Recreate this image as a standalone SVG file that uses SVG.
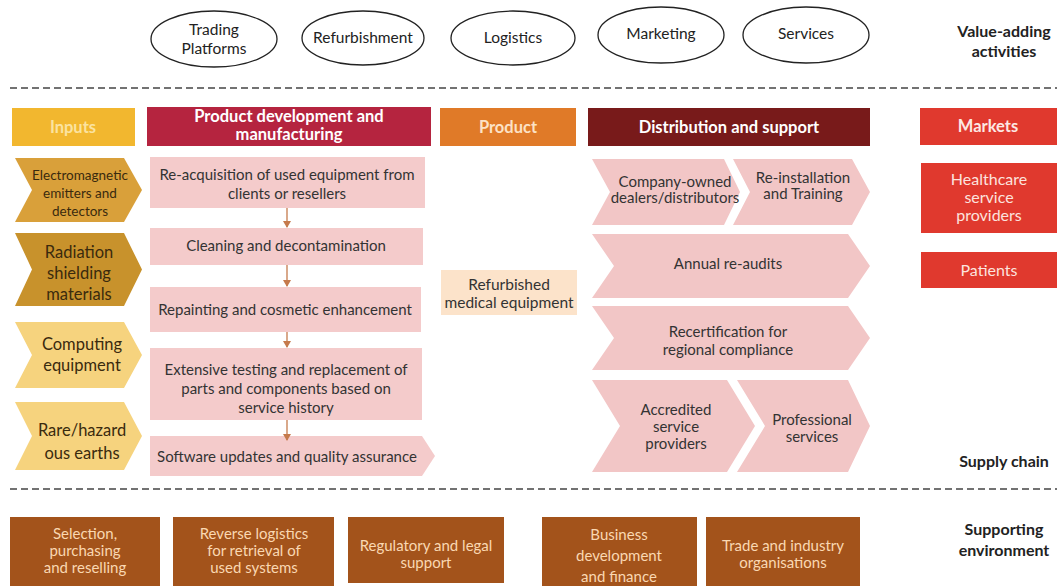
<svg xmlns="http://www.w3.org/2000/svg" width="1061" height="586" viewBox="0 0 1061 586">
<style>
text{font-family:Lato,"Open Sans","Liberation Sans",sans-serif;text-anchor:middle}
.ell{fill:#fff;stroke:#222;stroke-width:1.3}
.et{font-size:15.5px;fill:#222}
.lbl{font-size:16px;font-weight:bold;fill:#222}
.hd{font-size:16.5px;font-weight:bold}
.dash{stroke:#444;stroke-width:1.4;stroke-dasharray:7 4;fill:none}
.pink{fill:#F4CBCB}
.dpink{fill:#F2C6C6}
.pt{font-size:15px;fill:#333}
.dt{font-size:15px;fill:#333}
.it{fill:#3a2a0e;font-size:16.5px}
.mk{fill:#E0392E}
.mt{font-size:16px;fill:#FCE3DE}
.br{fill:#A3531B}
.bt{font-size:15px;fill:#FAD8B2}
.conn{stroke:#C57A4C;stroke-width:1.3;fill:none}
</style>
<defs>
<marker id="ah" markerWidth="8" markerHeight="8" refX="6" refY="4" orient="auto" markerUnits="userSpaceOnUse">
<path d="M0,0 L7,4 L0,8 Z" fill="#C57A4C"/>
</marker>
</defs>

<g id="value-adding">
<g id="n-trading"><ellipse class="ell" cx="214" cy="39" rx="63" ry="28"/><text class="et" x="214" y="35">Trading</text><text class="et" x="214" y="54">Platforms</text></g>
<g id="n-refurb"><ellipse class="ell" cx="363" cy="38" rx="61" ry="27"/><text class="et" x="363" y="43">Refurbishment</text></g>
<g id="n-logistics"><ellipse class="ell" cx="513" cy="38" rx="62" ry="27"/><text class="et" x="513" y="43">Logistics</text></g>
<g id="n-marketing"><ellipse class="ell" cx="661" cy="35" rx="63" ry="28"/><text class="et" x="661" y="39">Marketing</text></g>
<g id="n-services"><ellipse class="ell" cx="806" cy="35" rx="63" ry="28"/><text class="et" x="806" y="39">Services</text></g>
</g>

<g id="row-labels">
<text class="lbl" x="1004" y="37">Value-adding</text>
<text class="lbl" x="1004" y="57">activities</text>
<text class="lbl" x="1004" y="467">Supply chain</text>
<text class="lbl" x="1004" y="535">Supporting</text>
<text class="lbl" x="1004" y="556">environment</text>
</g>

<g id="separators">
<line class="dash" x1="10" y1="88" x2="1057" y2="88"/>
<line class="dash" x1="10" y1="489" x2="1057" y2="489"/>
</g>

<g id="headers">
<g id="h-inputs"><rect x="12" y="108" width="123" height="38" fill="#F2B72F"/><text class="hd" x="73" y="133" fill="#FBE3A0">Inputs</text></g>
<g id="h-pdm"><rect x="147" y="107" width="284" height="39" fill="#B5243F"/><text class="hd" x="289" y="122" fill="#fff">Product development and</text><text class="hd" x="289" y="140" fill="#fff">manufacturing</text></g>
<g id="h-product"><rect x="440" y="108" width="136" height="38" fill="#E07A28"/><text class="hd" x="508" y="133" fill="#FCE2C6">Product</text></g>
<g id="h-dist"><rect x="588" y="108" width="282" height="38" fill="#781A1A"/><text class="hd" x="729" y="133" fill="#fff">Distribution and support</text></g>
<g id="h-markets"><rect x="920" y="108" width="137" height="37" class="mk"/><text class="hd" x="988" y="132" fill="#FCE8E4">Markets</text></g>
</g>

<g id="inputs">
<g id="in-em"><polygon points="15,158 124,158 142,190 124,222 15,222 32,190" fill="#D9A03A"/><text class="it" style="font-size:13.5px" x="80" y="180">Electromagnetic</text><text class="it" style="font-size:13.5px" x="80" y="198">emitters and</text><text class="it" style="font-size:13.5px" x="80" y="216">detectors</text></g>
<g id="in-rad"><polygon points="15,233 124,233 142,269.5 124,306 15,306 32,269.5" fill="#C8922C"/><text class="it" x="79" y="258">Radiation</text><text class="it" x="79" y="279">shielding</text><text class="it" x="79" y="300">materials</text></g>
<g id="in-comp"><polygon points="15,322 124,322 142,355 124,388 15,388 32,355" fill="#F6D37E"/><text class="it" x="82" y="350">Computing</text><text class="it" x="82" y="371">equipment</text></g>
<g id="in-rare"><polygon points="15,402 124,402 142,436 124,470 15,470 32,436" fill="#F6D37E"/><text class="it" x="82" y="436">Rare/hazard</text><text class="it" x="82" y="459">ous earths</text></g>
</g>

<g id="pdm-steps">
<g id="s1"><rect class="pink" x="150" y="157" width="275" height="51"/><text class="pt" x="287" y="180">Re-acquisition of used equipment from</text><text class="pt" x="287" y="199">clients or resellers</text></g>
<g id="s2"><rect class="pink" x="150" y="228" width="273" height="37"/><text class="pt" x="286" y="251">Cleaning and decontamination</text></g>
<g id="s3"><rect class="pink" x="150" y="287" width="271" height="45"/><text class="pt" x="285" y="315">Repainting and cosmetic enhancement</text></g>
<g id="s4"><rect class="pink" x="150" y="348" width="272" height="72"/><text class="pt" x="286" y="375">Extensive testing and replacement of</text><text class="pt" x="286" y="394">parts and components based on</text><text class="pt" x="286" y="413">service history</text></g>
<g id="s5"><polygon class="pink" points="150,436 422,436 435,456 422,476 150,476"/><text class="pt" x="287" y="462">Software updates and quality assurance</text></g>
</g>

<g id="connectors">
<line class="conn" x1="287" y1="208" x2="287" y2="227" marker-end="url(#ah)"/>
<line class="conn" x1="287" y1="265" x2="287" y2="286" marker-end="url(#ah)"/>
<line class="conn" x1="287" y1="332" x2="287" y2="347" marker-end="url(#ah)"/>
<line class="conn" x1="287" y1="420" x2="287" y2="440" marker-end="url(#ah)"/>
</g>

<g id="product">
<rect x="441" y="270" width="136" height="45" fill="#FCE3CA"/>
<text x="509" y="290" style="font-size:15.5px;fill:#333">Refurbished</text>
<text x="509" y="308" style="font-size:15.5px;fill:#333">medical equipment</text>
</g>

<g id="distribution">
<g id="d1"><polygon class="dpink" points="592,159 724,159 740,192 724,225 592,225 610,192"/><text class="dt" x="675" y="187">Company-owned</text><text class="dt" x="675" y="203">dealers/distributors</text></g>
<g id="d2"><polygon class="dpink" points="733,159 852,159 870,192 852,225 733,225 750,192"/><text class="dt" x="803" y="183">Re-installation</text><text class="dt" x="803" y="199">and Training</text></g>
<g id="d3"><polygon class="dpink" points="592,234 848,234 870,266 848,298 592,298 614,266"/><text class="dt" x="728" y="269">Annual re-audits</text></g>
<g id="d4"><polygon class="dpink" points="592,306 848,306 870,338 848,370 592,370 614,338"/><text class="dt" x="728" y="337">Recertification for</text><text class="dt" x="728" y="355">regional compliance</text></g>
<g id="d5"><polygon class="dpink" points="592,380 727,380 755,426 727,472 592,472 620,426"/><text class="dt" x="676" y="415">Accredited</text><text class="dt" x="676" y="432">service</text><text class="dt" x="676" y="449">providers</text></g>
<g id="d6"><polygon class="dpink" points="737,380 848,380 870,426 848,472 737,472 765,426"/><text class="dt" x="812" y="425">Professional</text><text class="dt" x="812" y="442">services</text></g>
</g>

<g id="markets">
<g id="m1"><rect class="mk" x="921" y="163" width="136" height="70"/><text class="mt" x="989" y="185">Healthcare</text><text class="mt" x="989" y="203">service</text><text class="mt" x="989" y="221">providers</text></g>
<g id="m2"><rect class="mk" x="921" y="252" width="136" height="36"/><text class="mt" x="989" y="276">Patients</text></g>
</g>

<g id="supporting">
<g id="b1"><rect class="br" x="10" y="517" width="150" height="69"/><text class="bt" x="85" y="539">Selection,</text><text class="bt" x="85" y="556">purchasing</text><text class="bt" x="85" y="573">and reselling</text></g>
<g id="b2"><rect class="br" x="173" y="517" width="161" height="69"/><text class="bt" x="254" y="539">Reverse logistics</text><text class="bt" x="254" y="556">for retrieval of</text><text class="bt" x="254" y="573">used systems</text></g>
<g id="b3"><rect class="br" x="348" y="517" width="156" height="66"/><text class="bt" x="426" y="551">Regulatory and legal</text><text class="bt" x="426" y="568">support</text></g>
<g id="b4"><rect class="br" x="542" y="517" width="155" height="69"/><text class="bt" x="619" y="540">Business</text><text class="bt" x="619" y="561">development</text><text class="bt" x="619" y="582">and finance</text></g>
<g id="b5"><rect class="br" x="706" y="517" width="154" height="69"/><text class="bt" x="783" y="551">Trade and industry</text><text class="bt" x="783" y="568">organisations</text></g>
</g>
</svg>
